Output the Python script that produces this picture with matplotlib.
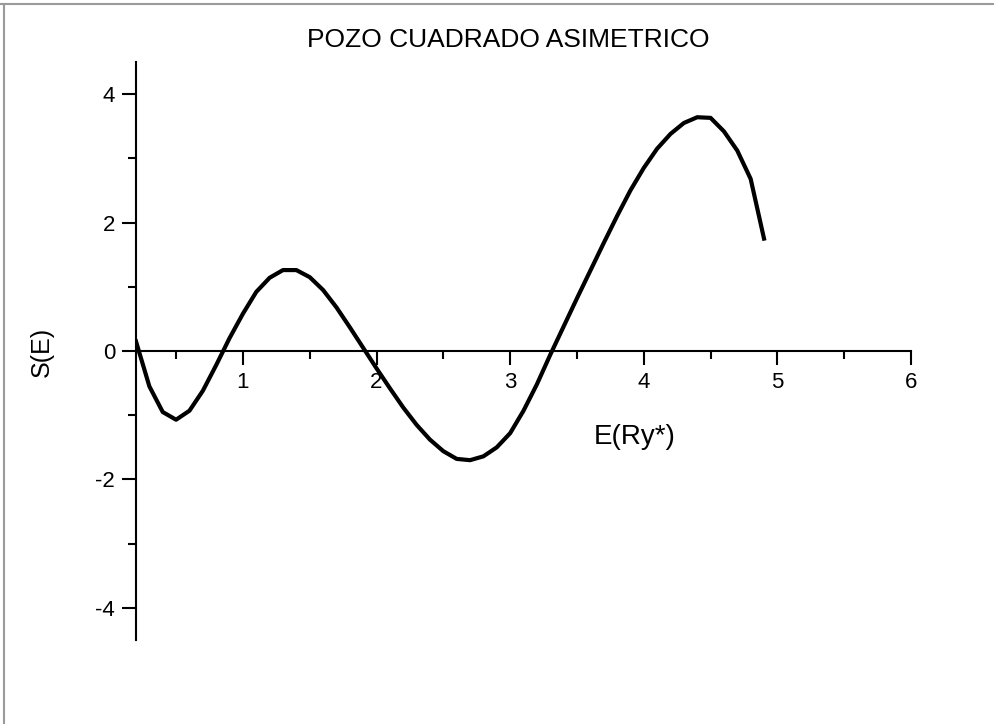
import matplotlib.pyplot as plt
import numpy as np
from matplotlib.lines import Line2D
from matplotlib.ticker import MultipleLocator

plt.rcParams["font.family"] = ["Liberation Sans", "DejaVu Sans"]
plt.rcParams["axes.unicode_minus"] = False

# Data
energy = [0.2, 0.3, 0.4, 0.5, 0.6, 0.7, 0.8, 0.9, 1.0, 1.1,
          1.2, 1.3, 1.4, 1.5, 1.6, 1.7, 1.8, 1.9, 2.0, 2.1,
          2.2, 2.3, 2.4, 2.5, 2.6, 2.7, 2.8, 2.9, 3.0, 3.1,
          3.2, 3.3, 3.4, 3.5, 3.6, 3.7, 3.8, 3.9, 4.0, 4.1,
          4.2, 4.3, 4.4, 4.5, 4.6, 4.7, 4.8, 4.9]
s_values = [0.15, -0.55, -0.95, -1.07, -0.93, -0.62, -0.22, 0.20, 0.58, 0.92,
            1.14, 1.26, 1.26, 1.15, 0.95, 0.68, 0.37, 0.05, -0.27, -0.58,
            -0.88, -1.15, -1.38, -1.56, -1.68, -1.70, -1.64, -1.50, -1.28, -0.93,
            -0.52, -0.06, 0.38, 0.82, 1.25, 1.68, 2.10, 2.50, 2.85, 3.15,
            3.38, 3.55, 3.64, 3.63, 3.42, 3.12, 2.68, 1.75]

x_major = [1, 2, 3, 4, 5, 6]
y_major = [-4, -2, 0, 2, 4]

fig = plt.figure(figsize=(9.95, 7.24), dpi=100)
ax = fig.add_axes([136 / 995, 84 / 724, 775 / 995, 578 / 724])

ax.plot(energy, s_values, color="black", lw=3.0, solid_joinstyle="round")

ax.set_xlim(0.2, 6)
ax.set_ylim(-4.5, 4.5)

# axis look: y axis at left edge, x axis through zero
ax.spines["top"].set_visible(False)
ax.spines["right"].set_visible(False)
ax.spines["bottom"].set_position(("data", 0))
ax.spines["left"].set_linewidth(1.5)
ax.spines["bottom"].set_linewidth(1.5)

ax.set_xticks(x_major)
ax.set_yticks(y_major)
ax.xaxis.set_minor_locator(MultipleLocator(0.5))
ax.yaxis.set_minor_locator(MultipleLocator(1))
ax.tick_params(which="major", length=10, width=1.5, labelsize=16, pad=5)
ax.tick_params(which="minor", length=6, width=1.5)
ax.tick_params(axis="y", which="major", pad=5)

fig.text(508 / 995, 1 - 40 / 724, "POZO CUADRADO ASIMETRICO",
         ha="center", va="center", fontsize=19)
fig.text(42 / 995, 1 - 352 / 724, "S(E)", rotation=90,
         ha="center", va="center", fontsize=18)
fig.text(635 / 995, 1 - 437 / 724, "E(Ry*)",
         ha="center", va="center", fontsize=20)

# thin grey frame lines at top and left of the picture
fig.add_artist(Line2D([0, 1], [1 - 4 / 724, 1 - 4 / 724], color="#9a9a9a",
                      lw=1.5, transform=fig.transFigure))
fig.add_artist(Line2D([4 / 995, 4 / 995], [0, 1 - 4 / 724], color="#9a9a9a",
                      lw=1.5, transform=fig.transFigure))

fig.savefig("out.png", dpi=100)
